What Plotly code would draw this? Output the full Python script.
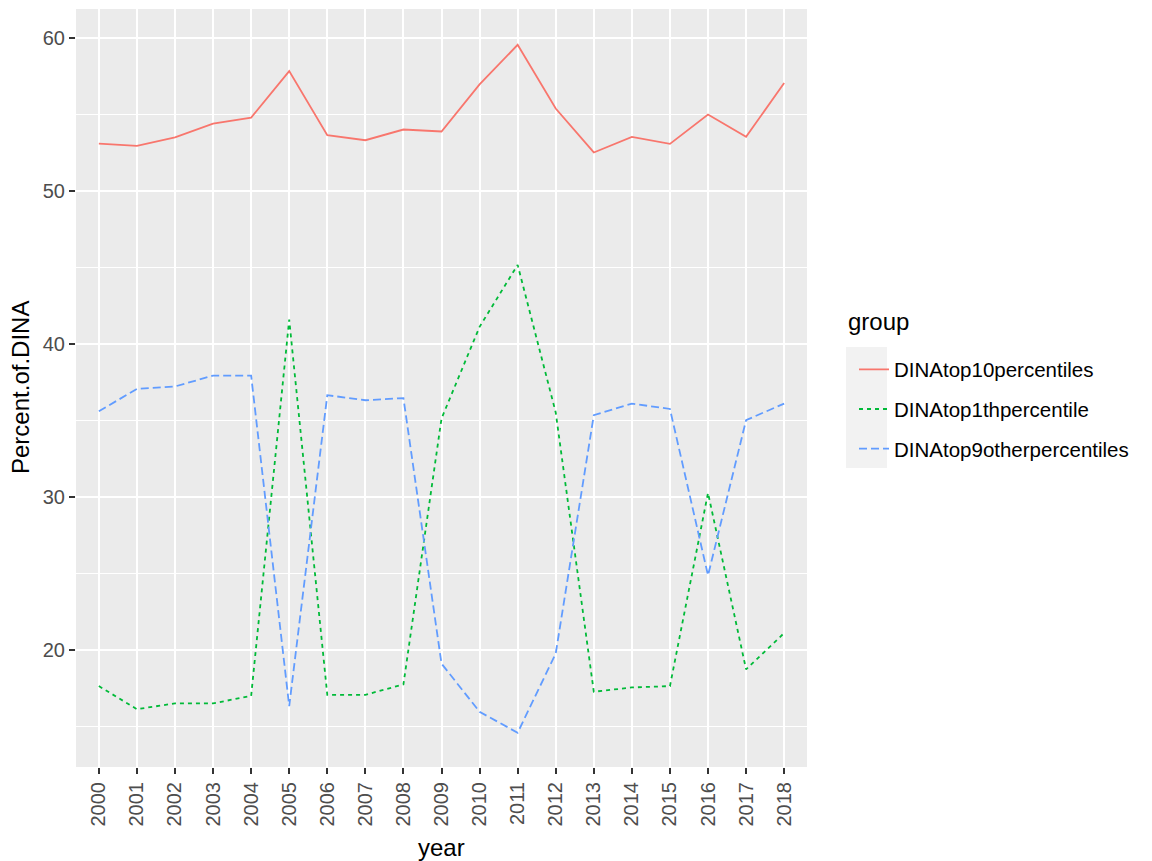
import plotly.graph_objects as go

years = list(range(2000, 2019))
groups = ["DINAtop10percentiles", "DINAtop1thpercentile", "DINAtop9otherpercentiles"]
top10 = [53.08, 52.93, 53.48, 54.39, 54.78, 57.82, 53.63, 53.30, 54.00, 53.87,
         56.95, 59.54, 55.37, 52.50, 53.52, 53.06, 54.98, 53.52, 57.04]
top1 = [17.61, 16.10, 16.48, 16.48, 16.97, 41.57, 17.04, 17.04, 17.72, 35.10,
        41.10, 45.15, 35.50, 17.24, 17.52, 17.61, 30.24, 18.70, 21.08]
top9 = [35.58, 37.04, 37.20, 37.91, 37.91, 16.30, 36.63, 36.30, 36.44, 19.08,
        15.93, 14.56, 19.74, 35.32, 36.08, 35.73, 24.85, 35.00, 36.08]

colors = ["#F8766D", "#00BA38", "#619CFF"]
dashes = ["solid", "4px,4px", "8px,4px"]
series = [top10, top1, top9]

OFF = 8  # page body margin
W, H = 1152 - OFF, 861 - OFF
# plot area in screen pixels
SL, SR, ST, SB = 76, 807, 9, 767
L, R, T, B = SL - OFF, SR - OFF, ST - OFF, SB - OFF

fig = go.Figure()
for i, (name, vals, c, d) in enumerate(zip(groups, series, colors, dashes)):
    fig.add_trace(go.Scatter(
        x=years, y=vals, mode="lines", name=name, legendgroup=name,
        line=dict(color=c, width=1.8, dash=d),
    ))

font = "Liberation Sans, Arial, sans-serif"
axis_common = dict(
    showline=False, zeroline=False,
    gridcolor="white", gridwidth=2,
    ticks="outside", ticklen=6, tickwidth=2, tickcolor="#333333",
    tickfont=dict(family=font, size=20, color="#4D4D4D"),
)
fig.update_xaxes(
    range=[1999.4, 2018.6], tickmode="array", tickvals=years,
    ticktext=[str(y) for y in years], tickangle=-90,
    **axis_common,
)
fig.update_yaxes(
    range=[12.32, 61.88], tickmode="array", tickvals=[20, 30, 40, 50, 60],
    minor=dict(tickvals=[15, 25, 35, 45, 55], showgrid=True, gridcolor="white",
               gridwidth=1, ticks=""),
    **axis_common,
)

def px(sx):
    return (sx - OFF - L) / (R - L)

def py(sy):
    return (B - (sy - OFF)) / (B - T)

# axis titles
fig.add_annotation(text="year", xref="paper", yref="paper",
                   x=px(441.5), y=py(847), xanchor="center", yanchor="middle",
                   showarrow=False, font=dict(family=font, size=24, color="black"))
fig.add_annotation(text="Percent.of.DINA", xref="paper", yref="paper",
                   x=px(20), y=py(388), xanchor="center", yanchor="middle",
                   textangle=-90, showarrow=False,
                   font=dict(family=font, size=24, color="black"))

# legend key background
fig.add_shape(type="rect", xref="paper", yref="paper",
              x0=px(846), x1=px(887), y0=py(468), y1=py(347),
              fillcolor="#F2F2F2", line=dict(width=0), layer="below")

# legend title
fig.add_annotation(text="group", xref="paper", yref="paper",
                   x=px(846), y=py(321), xanchor="left", yanchor="middle",
                   showarrow=False, font=dict(family=font, size=24, color="black"))

fig.update_layout(
    width=W, height=H,
    margin=dict(l=L, r=W - R, t=T, b=H - B, autoexpand=False),
    plot_bgcolor="#EBEBEB", paper_bgcolor="white",
    font=dict(family=font, color="black"),
    showlegend=True,
    legend=dict(
        x=px(854), xanchor="left", y=py(349.5), yanchor="top",
        bgcolor="rgba(0,0,0,0)", borderwidth=0,
        font=dict(family=font, size=20.5, color="black"),
        tracegroupgap=10, itemwidth=30,
    ),
)

fig.write_html("out.html")
